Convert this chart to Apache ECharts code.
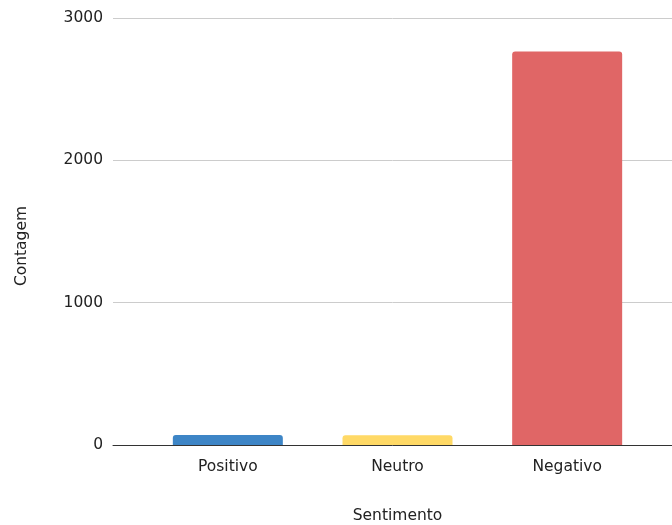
<!DOCTYPE html>
<html>
<head>
<meta charset="utf-8">
<script src="https://cdn.jsdelivr.net/npm/echarts@6/dist/echarts.min.js"></script>
<style>
  html, body { margin: 0; padding: 0; background: #fff; }
  #chart { width: 672px; height: 525px; }
</style>
</head>
<body>
<div id="chart"></div>
<script>
// dados do gráfico
const categorias = ['Positivo', 'Neutro', 'Negativo']
const contagem = [70, 68, 2765]
const cores = ['#3d85c6', '#ffd966', '#e06666']
const yTicks = [0, 1000, 2000, 3000]

const fonte = 'DejaVu Sans'
const tam = 15.5

const chart = echarts.init(document.getElementById('chart'))

chart.setOption({
  animation: false,
  // grid 0: linhas de grade e eixo Y, grid 1: barras
  grid: [
    { left: 113, right: 0, top: 18, bottom: 80, outerBoundsMode: 'none' },
    { left: 143, right: 20, top: 18, bottom: 80, outerBoundsMode: 'none' },
  ],
  graphic: [
    {
      type: 'text',
      x: 22,
      y: 246,
      rotation: Math.PI / 2,
      style: {
        text: 'Contagem',
        fill: '#222',
        font: tam + 'px "' + fonte + '"',
        align: 'center',
        verticalAlign: 'middle',
      },
    },
  ],
  xAxis: [
    {
      gridIndex: 0,
      type: 'category',
      data: [''],
      axisLine: { show: true, lineStyle: { color: '#333', width: 1 } },
      axisTick: { show: false },
      axisLabel: { show: false },
      z: 5,
    },
    {
      gridIndex: 1,
      type: 'category',
      data: categorias,
      axisLine: { show: false },
      axisTick: { show: false },
      axisLabel: { color: '#222', fontFamily: fonte, fontSize: tam, margin: 14 },
      name: 'Sentimento',
      nameLocation: 'middle',
      nameGap: 63,
      nameTextStyle: { color: '#222', fontFamily: fonte, fontSize: tam },
    },
  ],
  yAxis: [
    {
      gridIndex: 0,
      type: 'value',
      min: yTicks[0],
      max: yTicks[yTicks.length - 1],
      interval: 1000,
      axisLine: { show: false },
      axisTick: { show: false },
      axisLabel: {
        color: '#222',
        fontFamily: fonte,
        fontSize: tam,
        margin: 10,
        formatter: (v) => String(v),
      },
      splitLine: { lineStyle: { color: '#cccccc', width: 1 } },
    },
    {
      gridIndex: 1,
      type: 'value',
      min: yTicks[0],
      max: yTicks[yTicks.length - 1],
      show: false,
      splitLine: { show: false },
    },
  ],
  series: [
    {
      type: 'bar',
      xAxisIndex: 1,
      yAxisIndex: 1,
      barWidth: 110,
      data: contagem.map((v, i) => ({
        value: v,
        itemStyle: { color: cores[i], borderRadius: [3, 3, 0, 0] },
      })),
    },
  ],
})
</script>
</body>
</html>
